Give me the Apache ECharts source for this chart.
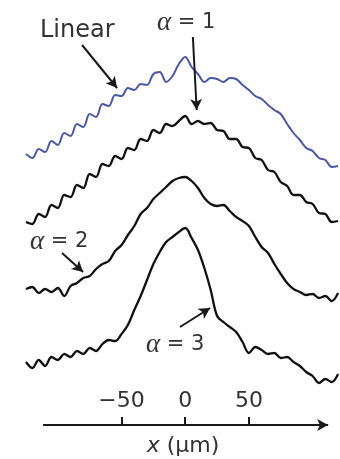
<!DOCTYPE html>
<html>
<head>
<meta charset="utf-8">
<script src="https://cdn.jsdelivr.net/npm/echarts@6/dist/echarts.min.js"></script>
<style>
  html, body { margin: 0; padding: 0; background: #fff; }
  #chart { width: 340px; height: 459px; }
</style>
</head>
<body>
<div id="chart"></div>
<script>
// positions along x, in micrometres
const xs = [-125, -120, -115, -110, -105, -100, -95, -90, -85, -80, -75, -70, -65, -60, -55,
  -50, -45, -40, -35, -30, -25, -20, -15, -10, -5, 0, 5, 10, 15, 20, 25, 30, 35, 40, 45,
  50, 55, 60, 65, 70, 75, 80, 85, 90, 95, 100, 105, 110, 115, 120];

// profiles (arbitrary units, stacked with offsets as in the figure)
const linear = [271, 267, 276, 273, 284, 280, 292, 289, 301, 298, 311, 308, 321, 319, 330,
  329, 337, 335, 341, 340, 351, 353, 343, 349, 361, 368, 358, 351, 343, 347, 346, 343, 347, 346, 340,
  335, 329, 326, 320, 315, 311, 301, 292, 285, 277, 274, 267, 265, 258, 259];
const alpha1 = [203, 201, 211, 208, 220, 217, 230, 228, 240, 237, 251, 248, 261, 259, 269,
  266, 277, 275, 286, 284, 295, 292, 301, 299, 304, 309, 301, 304, 301, 302, 295, 294, 286, 286, 278,
  277, 267, 265, 255, 253, 243, 239, 230, 230, 223, 221, 212, 211, 203, 204];
const alpha2 = [136, 138, 132, 136, 133, 137, 129, 139, 142, 147, 149, 156, 161, 164, 174,
  180, 190, 199, 211, 217, 226, 232, 238, 244, 247, 248, 244, 237, 227, 221, 219, 220, 214, 208, 204,
  199, 188, 178, 172, 161, 151, 142, 136, 133, 130, 131, 127, 129, 124, 132];
const alpha3 = [63, 57, 65, 59, 68, 65, 71, 68, 74, 71, 77, 74, 81, 85, 84,
  91, 100, 115, 129, 145, 161, 173, 183, 188, 193, 197, 187, 175, 157, 135, 109, 103, 98, 93, 83,
  72, 78, 75, 71, 72, 67, 68, 63, 59, 53, 49, 42, 46, 43, 51];

const tickValues = [-50, 0, 50];

const pairs = ys => xs.map((x, i) => [x, ys[i]]);

const chart = echarts.init(document.getElementById('chart'));

const lineSeries = (name, data, color, width) => ({
  name: name,
  type: 'line',
  data: pairs(data),
  showSymbol: false,
  smooth: 0.35,
  lineStyle: { color: color, width: width },
  silent: true
});

const a3 = lineSeries('α = 3', alpha3, '#111', 2.3);
// axis arrow and the pointer arrows, in data coordinates
a3.markLine = {
  silent: true,
  animation: false,
  symbol: ['none', 'arrow'],
  symbolSize: [9, 11],
  label: { show: false },
  lineStyle: { color: '#1a1a1a', width: 2, type: 'solid' },
  data: [
    [{ coord: [-111.6, 0] }, { coord: [112.2, 0] }],
    [{ coord: [-81, 380] }, { coord: [-53.5, 337] }],
    [{ coord: [6, 388] }, { coord: [9, 315] }],
    [{ coord: [-96.7, 172] }, { coord: [-80.2, 153] }],
    [{ coord: [-4.1, 98] }, { coord: [19.5, 117] }]
  ]
};

const labelFont = 'DejaVu Sans';
const alphaText = (txt, x, y) => ({
  type: 'text',
  x: x,
  y: y,
  style: {
    text: '{a|α} = ' + txt,
    fill: '#333',
    font: '21px "DejaVu Sans"',
    verticalAlign: 'middle',
    rich: {
      a: { fontFamily: 'Liberation Serif', fontStyle: 'italic', fontSize: 27, fill: '#333' }
    }
  }
});

chart.setOption({
  animation: false,
  backgroundColor: '#fff',
  grid: { left: 26, right: 0, top: 25, bottom: 34, outerBoundsMode: 'none' },
  xAxis: {
    type: 'value',
    min: -125,
    max: 121.5,
    splitLine: { show: false },
    axisLine: { show: false },
    axisTick: {
      show: true,
      inside: true,
      length: 8,
      customValues: tickValues,
      lineStyle: { color: '#1a1a1a', width: 2 }
    },
    axisLabel: {
      inside: true,
      margin: 13,
      customValues: tickValues,
      fontFamily: labelFont,
      fontSize: 22,
      color: '#333',
      formatter: v => (v < 0 ? '\u2212' + Math.abs(v) : String(v))
    },
    name: '{i|x} ({t|µm})',
    nameLocation: 'middle',
    nameGap: 10,
    nameTextStyle: {
      fontFamily: labelFont,
      fontSize: 22,
      color: '#333',
      verticalAlign: 'top',
      rich: {
        i: { fontFamily: labelFont, fontStyle: 'italic', fontSize: 22, color: '#333' },
        t: { fontFamily: labelFont, fontSize: 22, color: '#333' }
      }
    }
  },
  yAxis: { type: 'value', min: 0, max: 400, show: false },
  series: [
    lineSeries('Linear', linear, '#4a56a6', 2),
    lineSeries('α = 1', alpha1, '#111', 2.3),
    lineSeries('α = 2', alpha2, '#111', 2.3),
    a3
  ],
  graphic: [
    {
      type: 'text', x: 40, y: 31,
      style: { text: 'Linear', fill: '#333', font: '24px "DejaVu Sans"', verticalAlign: 'middle' }
    },
    alphaText('1', 157, 23),
    alphaText('2', 30, 242),
    alphaText('3', 146, 345)
  ]
});
</script>
</body>
</html>
